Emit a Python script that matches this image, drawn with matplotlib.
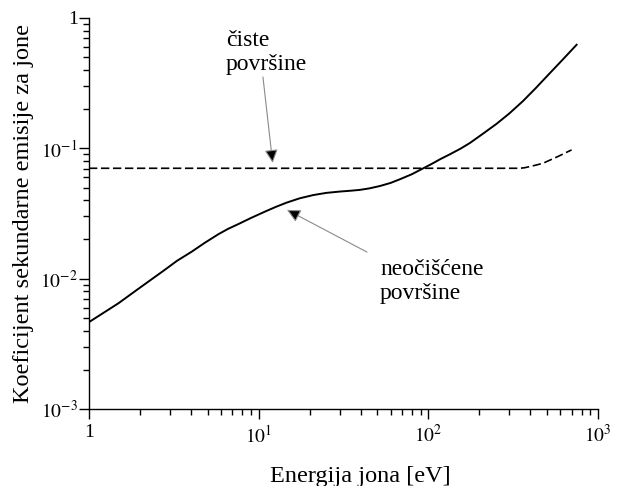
import matplotlib
matplotlib.use('Agg')
import matplotlib.pyplot as plt
from matplotlib.ticker import LogLocator, FixedLocator, FixedFormatter, NullFormatter

# neociscene povrsine (solid curve)
energy_dirty = [1.01, 1.49, 1.95, 2.80, 3.3, 4.03, 4.8, 5.78, 6.6, 7.58, 9.0, 10.9, 12.6,
                14.6, 17.5, 21.0, 25, 30.1, 35, 39.5, 45, 51.9, 60, 68.0, 80, 93.4, 105,
                117, 134, 155, 176, 210, 253, 300, 362, 430, 521, 620, 748]
coef_dirty = [0.00468, 0.00647, 0.00834, 0.0117, 0.0137, 0.0161, 0.0188, 0.0219, 0.0241,
              0.0262, 0.0292, 0.0327, 0.0355, 0.0383, 0.0414, 0.0438, 0.0455, 0.0466,
              0.0473, 0.0480, 0.0493, 0.0514, 0.0543, 0.0579, 0.0633, 0.0703, 0.0761,
              0.0823, 0.090, 0.0995, 0.110, 0.1295, 0.1545, 0.185, 0.231, 0.290, 0.378,
              0.480, 0.623]

# ciste povrsine (dashed curve)
energy_clean = [1, 347, 370, 397, 430, 475, 580, 699]
coef_clean = [0.0703, 0.0703, 0.0710, 0.0725, 0.0743, 0.0769, 0.0865, 0.0973]

x_ticks = [1, 10, 100, 1000]
x_labels = ['1', r'$10^{1}$', r'$10^{2}$', r'$10^{3}$']
y_ticks = [1e-3, 1e-2, 1e-1, 1]
y_labels = [r'$10^{-3}$', r'$10^{-2}$', r'$10^{-1}$', '1']

plt.rcParams['font.family'] = ['Liberation Serif', 'DejaVu Serif']
plt.rcParams['mathtext.fontset'] = 'stix'

fig = plt.figure(figsize=(6.17, 4.86), dpi=100)
ax = fig.add_axes([0.1442, 0.1584, 0.825, 0.8046])

ax.plot(energy_dirty, coef_dirty, color='black', lw=1.4)
ax.plot(energy_clean, coef_clean, color='black', lw=1.2, ls=(0, (5, 2.2)))

ax.set_xscale('log')
ax.set_yscale('log')
ax.set_xlim(1, 1000)
ax.set_ylim(1e-3, 1)

for s in ['top', 'right']:
    ax.spines[s].set_visible(False)
ax.spines['left'].set_linewidth(1.0)
ax.spines['bottom'].set_linewidth(1.0)

ax.xaxis.set_major_locator(FixedLocator(x_ticks))
ax.xaxis.set_major_formatter(FixedFormatter(x_labels))
ax.yaxis.set_major_locator(FixedLocator(y_ticks))
ax.yaxis.set_major_formatter(FixedFormatter(y_labels))
ax.xaxis.set_minor_locator(LogLocator(base=10, subs=range(2, 10), numticks=20))
ax.yaxis.set_minor_locator(LogLocator(base=10, subs=range(2, 10), numticks=20))
ax.xaxis.set_minor_formatter(NullFormatter())
ax.yaxis.set_minor_formatter(NullFormatter())

ax.tick_params(which='major', direction='out', length=7, width=1.0, labelsize=14)
ax.tick_params(which='minor', direction='out', length=4, width=1.0)
ax.tick_params(axis='y', which='major', pad=1)
ax.tick_params(axis='x', which='major', pad=4)

ax.set_xlabel('Energija jona [eV]', fontsize=17.5)
ax.xaxis.set_label_coords(0.534, -0.145)
ax.set_ylabel('Koeficijent sekundarne emisije za jone', fontsize=17.5)
ax.yaxis.set_label_coords(-0.108, 0.5)

arrow = dict(arrowstyle='-|>', fc='black', ec='#8a8a8a', lw=0.8, mutation_scale=20,
             shrinkA=0, shrinkB=0)
ax.annotate('', xy=(12.1, 0.0773), xytext=(10.6, 0.353), arrowprops=arrow)
ax.annotate('', xy=(14.7, 0.0337), xytext=(43.5, 0.0160), arrowprops=arrow)

ax.text(6.42, 0.81, 'čiste\npovršine', fontsize=17, ha='left', va='top', linespacing=1.2)
ax.text(51.9, 0.0142, 'neočišćene\npovršine', fontsize=17, ha='left', va='top', linespacing=1.2)

fig.savefig('out.png', dpi=100)
